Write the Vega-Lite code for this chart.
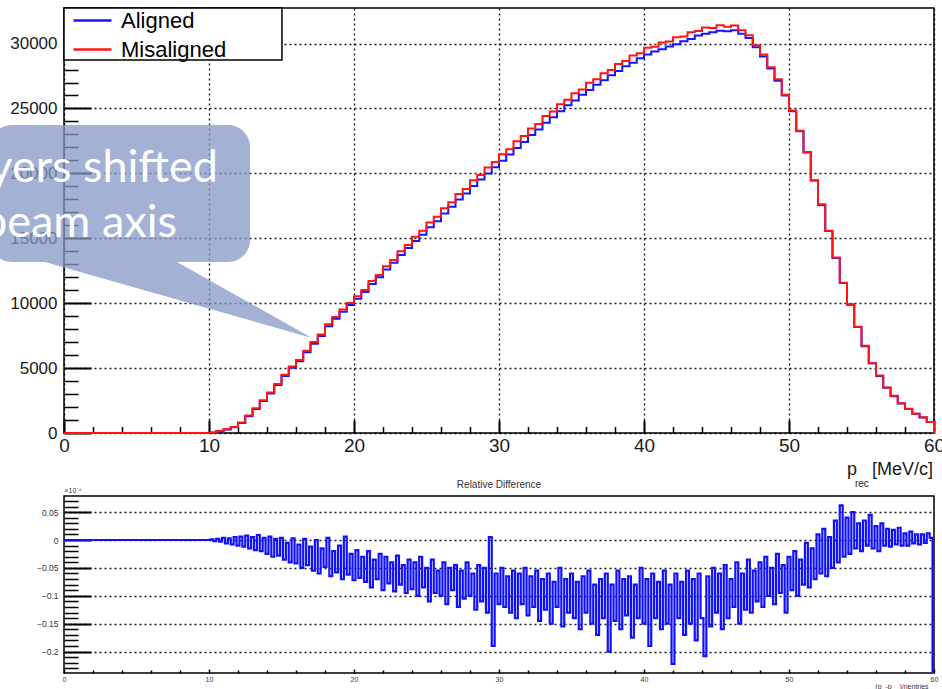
{
  "$schema": "https://vega.github.io/schema/vega-lite/v6.json",
  "autosize": {"type": "none"},
  "padding": {"left": 64, "top": 8, "right": 878, "bottom": 681},
  "background": "white",
  "config": {
    "font": "Liberation Sans",
    "view": {"stroke": "#000", "strokeWidth": 1.5},
    "axis": {
      "domain": false,
      "labelColor": "#1a1a1a",
      "tickColor": "#000",
      "gridColor": "#000",
      "gridDash": [2, 3],
      "gridWidth": 1.4,
      "labelOverlap": false,
      "labelFlush": false,
      "labelBound": false,
      "titleFontWeight": "normal"
    }
  },
  "datasets": {
    "spectrum": [
      {"p": 0, "Aligned": 0, "Misaligned": 0},
      {"p": 10, "Aligned": 35, "Misaligned": 40},
      {"p": 10.5, "Aligned": 140, "Misaligned": 150},
      {"p": 11, "Aligned": 265, "Misaligned": 280},
      {"p": 11.5, "Aligned": 450, "Misaligned": 470},
      {"p": 12, "Aligned": 770, "Misaligned": 800},
      {"p": 12.5, "Aligned": 1300, "Misaligned": 1340},
      {"p": 13, "Aligned": 1850, "Misaligned": 1900},
      {"p": 13.5, "Aligned": 2460, "Misaligned": 2520},
      {"p": 14, "Aligned": 3050, "Misaligned": 3120},
      {"p": 14.5, "Aligned": 3700, "Misaligned": 3780},
      {"p": 15, "Aligned": 4400, "Misaligned": 4480},
      {"p": 15.5, "Aligned": 5030, "Misaligned": 5120},
      {"p": 16, "Aligned": 5520, "Misaligned": 5630},
      {"p": 16.5, "Aligned": 6230, "Misaligned": 6340},
      {"p": 17, "Aligned": 6880, "Misaligned": 7010},
      {"p": 17.5, "Aligned": 7470, "Misaligned": 7580},
      {"p": 18, "Aligned": 8230, "Misaligned": 8380},
      {"p": 18.5, "Aligned": 8800, "Misaligned": 8930},
      {"p": 19, "Aligned": 9350, "Misaligned": 9520},
      {"p": 19.5, "Aligned": 9860, "Misaligned": 10010},
      {"p": 20, "Aligned": 10350, "Misaligned": 10540},
      {"p": 20.5, "Aligned": 10870, "Misaligned": 11020},
      {"p": 21, "Aligned": 11480, "Misaligned": 11700},
      {"p": 21.5, "Aligned": 12000, "Misaligned": 12180},
      {"p": 22, "Aligned": 12600, "Misaligned": 12850},
      {"p": 22.5, "Aligned": 13120, "Misaligned": 13330},
      {"p": 23, "Aligned": 13720, "Misaligned": 14000},
      {"p": 23.5, "Aligned": 14250, "Misaligned": 14480},
      {"p": 24, "Aligned": 14800, "Misaligned": 15120},
      {"p": 24.5, "Aligned": 15280, "Misaligned": 15580},
      {"p": 25, "Aligned": 15850, "Misaligned": 16220},
      {"p": 25.5, "Aligned": 16320, "Misaligned": 16650},
      {"p": 26, "Aligned": 16900, "Misaligned": 17320},
      {"p": 26.5, "Aligned": 17420, "Misaligned": 17780},
      {"p": 27, "Aligned": 17980, "Misaligned": 18420},
      {"p": 27.5, "Aligned": 18450, "Misaligned": 18800},
      {"p": 28, "Aligned": 19020, "Misaligned": 19470},
      {"p": 28.5, "Aligned": 19520, "Misaligned": 19880},
      {"p": 29, "Aligned": 19990, "Misaligned": 20450},
      {"p": 29.5, "Aligned": 20480, "Misaligned": 20870},
      {"p": 30, "Aligned": 20980, "Misaligned": 21480},
      {"p": 30.5, "Aligned": 21450, "Misaligned": 21850},
      {"p": 31, "Aligned": 21950, "Misaligned": 22470},
      {"p": 31.5, "Aligned": 22420, "Misaligned": 22880},
      {"p": 32, "Aligned": 22950, "Misaligned": 23460},
      {"p": 32.5, "Aligned": 23380, "Misaligned": 23800},
      {"p": 33, "Aligned": 23900, "Misaligned": 24420},
      {"p": 33.5, "Aligned": 24330, "Misaligned": 24760},
      {"p": 34, "Aligned": 24780, "Misaligned": 25320},
      {"p": 34.5, "Aligned": 25250, "Misaligned": 25680},
      {"p": 35, "Aligned": 25620, "Misaligned": 26170},
      {"p": 35.5, "Aligned": 26050, "Misaligned": 26460},
      {"p": 36, "Aligned": 26420, "Misaligned": 26980},
      {"p": 36.5, "Aligned": 26830, "Misaligned": 27260},
      {"p": 37, "Aligned": 27180, "Misaligned": 27720},
      {"p": 37.5, "Aligned": 27550, "Misaligned": 27960},
      {"p": 38, "Aligned": 27880, "Misaligned": 28420},
      {"p": 38.5, "Aligned": 28250, "Misaligned": 28660},
      {"p": 39, "Aligned": 28530, "Misaligned": 29080},
      {"p": 39.5, "Aligned": 28870, "Misaligned": 29250},
      {"p": 40, "Aligned": 29150, "Misaligned": 29680},
      {"p": 40.5, "Aligned": 29390, "Misaligned": 29760},
      {"p": 41, "Aligned": 29560, "Misaligned": 30080},
      {"p": 41.5, "Aligned": 29770, "Misaligned": 30150},
      {"p": 42, "Aligned": 29950, "Misaligned": 30480},
      {"p": 42.5, "Aligned": 30180, "Misaligned": 30550},
      {"p": 43, "Aligned": 30350, "Misaligned": 30880},
      {"p": 43.5, "Aligned": 30620, "Misaligned": 30960},
      {"p": 44, "Aligned": 30750, "Misaligned": 31230},
      {"p": 44.5, "Aligned": 30880, "Misaligned": 31200},
      {"p": 45, "Aligned": 30980, "Misaligned": 31420},
      {"p": 45.5, "Aligned": 30950, "Misaligned": 31300},
      {"p": 46, "Aligned": 31020, "Misaligned": 31390},
      {"p": 46.5, "Aligned": 30760, "Misaligned": 31020},
      {"p": 47, "Aligned": 30420, "Misaligned": 30650},
      {"p": 47.5, "Aligned": 29720, "Misaligned": 29880},
      {"p": 48, "Aligned": 29000, "Misaligned": 29150},
      {"p": 48.5, "Aligned": 28080, "Misaligned": 28180},
      {"p": 49, "Aligned": 27130, "Misaligned": 27250},
      {"p": 49.5, "Aligned": 26000, "Misaligned": 26060},
      {"p": 50, "Aligned": 24780, "Misaligned": 24850},
      {"p": 50.5, "Aligned": 23240, "Misaligned": 23280},
      {"p": 51, "Aligned": 21600, "Misaligned": 21640},
      {"p": 51.5, "Aligned": 19450, "Misaligned": 19480},
      {"p": 52, "Aligned": 17560, "Misaligned": 17620},
      {"p": 52.5, "Aligned": 15560, "Misaligned": 15580},
      {"p": 53, "Aligned": 13480, "Misaligned": 13520},
      {"p": 53.5, "Aligned": 11560, "Misaligned": 11580},
      {"p": 54, "Aligned": 9880, "Misaligned": 9920},
      {"p": 54.5, "Aligned": 8170, "Misaligned": 8180},
      {"p": 55, "Aligned": 6690, "Misaligned": 6720},
      {"p": 55.5, "Aligned": 5370, "Misaligned": 5380},
      {"p": 56, "Aligned": 4390, "Misaligned": 4420},
      {"p": 56.5, "Aligned": 3490, "Misaligned": 3500},
      {"p": 57, "Aligned": 2840, "Misaligned": 2860},
      {"p": 57.5, "Aligned": 2280, "Misaligned": 2290},
      {"p": 58, "Aligned": 1840, "Misaligned": 1860},
      {"p": 58.5, "Aligned": 1480, "Misaligned": 1490},
      {"p": 59, "Aligned": 1200, "Misaligned": 1210},
      {"p": 59.5, "Aligned": 845, "Misaligned": 850},
      {"p": 60, "Aligned": 0, "Misaligned": 0}
    ],
    "pointer": [
      {"p": -1.31, "upper": 13174, "lower": 13174},
      {"p": 7.79, "upper": 13174, "lower": 10277},
      {"p": 17.1, "upper": 7319, "lower": 7319}
    ],
    "reldiff": [
      {"p": 0, "rd": 0},
      {"p": 10, "rd": 0}, {"p": 10.2, "rd": 0.001}, {"p": 10.4, "rd": -0.002}, {"p": 10.6, "rd": 0.002}, {"p": 10.8, "rd": -0.003},
      {"p": 11, "rd": 0.004}, {"p": 11.2, "rd": -0.006}, {"p": 11.4, "rd": 0.003}, {"p": 11.6, "rd": -0.008}, {"p": 11.8, "rd": 0.005},
      {"p": 12, "rd": -0.01}, {"p": 12.2, "rd": 0.006}, {"p": 12.4, "rd": -0.012}, {"p": 12.6, "rd": 0.008}, {"p": 12.8, "rd": -0.015},
      {"p": 13, "rd": 0.005}, {"p": 13.2, "rd": -0.018}, {"p": 13.4, "rd": 0.009}, {"p": 13.6, "rd": -0.02}, {"p": 13.8, "rd": 0.004},
      {"p": 14, "rd": -0.025}, {"p": 14.2, "rd": 0.006}, {"p": 14.4, "rd": -0.03}, {"p": 14.6, "rd": 0.002}, {"p": 14.8, "rd": -0.028},
      {"p": 15, "rd": 0.004}, {"p": 15.2, "rd": -0.035}, {"p": 15.4, "rd": -0.005}, {"p": 15.6, "rd": -0.04}, {"p": 15.8, "rd": 0.003},
      {"p": 16, "rd": -0.042}, {"p": 16.2, "rd": -0.008}, {"p": 16.4, "rd": -0.05}, {"p": 16.6, "rd": 0.002}, {"p": 16.8, "rd": -0.045},
      {"p": 17, "rd": -0.012}, {"p": 17.2, "rd": -0.055}, {"p": 17.4, "rd": 0}, {"p": 17.6, "rd": -0.06}, {"p": 17.8, "rd": -0.015},
      {"p": 18, "rd": -0.048}, {"p": 18.2, "rd": 0.004}, {"p": 18.4, "rd": -0.065}, {"p": 18.6, "rd": -0.02}, {"p": 18.8, "rd": -0.058},
      {"p": 19, "rd": -0.01}, {"p": 19.2, "rd": -0.07}, {"p": 19.4, "rd": 0.006}, {"p": 19.6, "rd": -0.062}, {"p": 19.8, "rd": -0.025},
      {"p": 20, "rd": -0.072}, {"p": 20.2, "rd": -0.018}, {"p": 20.4, "rd": -0.068}, {"p": 20.6, "rd": -0.03}, {"p": 20.8, "rd": -0.075},
      {"p": 21, "rd": -0.02}, {"p": 21.2, "rd": -0.085}, {"p": 21.4, "rd": -0.035}, {"p": 21.6, "rd": -0.07}, {"p": 21.8, "rd": -0.025},
      {"p": 22, "rd": -0.09}, {"p": 22.2, "rd": -0.03}, {"p": 22.4, "rd": -0.078}, {"p": 22.6, "rd": -0.04}, {"p": 22.8, "rd": -0.092},
      {"p": 23, "rd": -0.028}, {"p": 23.2, "rd": -0.08}, {"p": 23.4, "rd": -0.045}, {"p": 23.6, "rd": -0.095}, {"p": 23.8, "rd": -0.035},
      {"p": 24, "rd": -0.088}, {"p": 24.2, "rd": -0.04}, {"p": 24.4, "rd": -0.1}, {"p": 24.6, "rd": -0.03}, {"p": 24.8, "rd": -0.085},
      {"p": 25, "rd": -0.05}, {"p": 25.2, "rd": -0.11}, {"p": 25.4, "rd": -0.035}, {"p": 25.6, "rd": -0.095}, {"p": 25.8, "rd": -0.055},
      {"p": 26, "rd": -0.1}, {"p": 26.2, "rd": -0.04}, {"p": 26.4, "rd": -0.115}, {"p": 26.6, "rd": -0.05}, {"p": 26.8, "rd": -0.09},
      {"p": 27, "rd": -0.045}, {"p": 27.2, "rd": -0.12}, {"p": 27.4, "rd": -0.055}, {"p": 27.6, "rd": -0.105}, {"p": 27.8, "rd": -0.04},
      {"p": 28, "rd": -0.1}, {"p": 28.2, "rd": -0.06}, {"p": 28.4, "rd": -0.125}, {"p": 28.6, "rd": -0.045}, {"p": 28.8, "rd": -0.11},
      {"p": 29, "rd": -0.05}, {"p": 29.2, "rd": -0.13}, {"p": 29.4, "rd": 0.005}, {"p": 29.6, "rd": -0.19}, {"p": 29.8, "rd": -0.06},
      {"p": 30, "rd": -0.115}, {"p": 30.2, "rd": -0.05}, {"p": 30.4, "rd": -0.12}, {"p": 30.6, "rd": -0.065}, {"p": 30.8, "rd": -0.13},
      {"p": 31, "rd": -0.055}, {"p": 31.2, "rd": -0.14}, {"p": 31.4, "rd": -0.06}, {"p": 31.6, "rd": -0.115}, {"p": 31.8, "rd": -0.05},
      {"p": 32, "rd": -0.135}, {"p": 32.2, "rd": -0.065}, {"p": 32.4, "rd": -0.12}, {"p": 32.6, "rd": -0.055}, {"p": 32.8, "rd": -0.145},
      {"p": 33, "rd": -0.07}, {"p": 33.2, "rd": -0.125}, {"p": 33.4, "rd": -0.06}, {"p": 33.6, "rd": -0.15}, {"p": 33.8, "rd": -0.075},
      {"p": 34, "rd": -0.12}, {"p": 34.2, "rd": -0.05}, {"p": 34.4, "rd": -0.155}, {"p": 34.6, "rd": -0.07}, {"p": 34.8, "rd": -0.13},
      {"p": 35, "rd": -0.06}, {"p": 35.2, "rd": -0.14}, {"p": 35.4, "rd": -0.075}, {"p": 35.6, "rd": -0.16}, {"p": 35.8, "rd": -0.065},
      {"p": 36, "rd": -0.13}, {"p": 36.2, "rd": -0.055}, {"p": 36.4, "rd": -0.15}, {"p": 36.6, "rd": -0.08}, {"p": 36.8, "rd": -0.17},
      {"p": 37, "rd": -0.07}, {"p": 37.2, "rd": -0.14}, {"p": 37.4, "rd": -0.06}, {"p": 37.6, "rd": -0.2}, {"p": 37.8, "rd": -0.08},
      {"p": 38, "rd": -0.145}, {"p": 38.2, "rd": -0.055}, {"p": 38.4, "rd": -0.16}, {"p": 38.6, "rd": -0.07}, {"p": 38.8, "rd": -0.135},
      {"p": 39, "rd": -0.065}, {"p": 39.2, "rd": -0.175}, {"p": 39.4, "rd": -0.08}, {"p": 39.6, "rd": -0.14}, {"p": 39.8, "rd": -0.05},
      {"p": 40, "rd": -0.15}, {"p": 40.2, "rd": -0.07}, {"p": 40.4, "rd": -0.19}, {"p": 40.6, "rd": -0.06}, {"p": 40.8, "rd": -0.14},
      {"p": 41, "rd": -0.075}, {"p": 41.2, "rd": -0.16}, {"p": 41.4, "rd": -0.055}, {"p": 41.6, "rd": -0.15}, {"p": 41.8, "rd": -0.08},
      {"p": 42, "rd": -0.222}, {"p": 42.2, "rd": -0.06}, {"p": 42.4, "rd": -0.14}, {"p": 42.6, "rd": -0.075}, {"p": 42.8, "rd": -0.17},
      {"p": 43, "rd": -0.055}, {"p": 43.2, "rd": -0.15}, {"p": 43.4, "rd": -0.07}, {"p": 43.6, "rd": -0.18}, {"p": 43.8, "rd": -0.06},
      {"p": 44, "rd": -0.14}, {"p": 44.2, "rd": -0.208}, {"p": 44.4, "rd": -0.065}, {"p": 44.6, "rd": -0.155}, {"p": 44.8, "rd": -0.05},
      {"p": 45, "rd": -0.13}, {"p": 45.2, "rd": -0.06}, {"p": 45.4, "rd": -0.16}, {"p": 45.6, "rd": -0.045}, {"p": 45.8, "rd": -0.14},
      {"p": 46, "rd": -0.07}, {"p": 46.2, "rd": -0.12}, {"p": 46.4, "rd": -0.04}, {"p": 46.6, "rd": -0.15}, {"p": 46.8, "rd": -0.06},
      {"p": 47, "rd": -0.125}, {"p": 47.2, "rd": -0.035}, {"p": 47.4, "rd": -0.13}, {"p": 47.6, "rd": -0.055}, {"p": 47.8, "rd": -0.11},
      {"p": 48, "rd": -0.04}, {"p": 48.2, "rd": -0.12}, {"p": 48.4, "rd": -0.03}, {"p": 48.6, "rd": -0.1}, {"p": 48.8, "rd": -0.05},
      {"p": 49, "rd": -0.115}, {"p": 49.2, "rd": -0.025}, {"p": 49.4, "rd": -0.095}, {"p": 49.6, "rd": -0.045}, {"p": 49.8, "rd": -0.13},
      {"p": 50, "rd": -0.03}, {"p": 50.2, "rd": -0.09}, {"p": 50.4, "rd": -0.02}, {"p": 50.6, "rd": -0.1}, {"p": 50.8, "rd": -0.035},
      {"p": 51, "rd": -0.08}, {"p": 51.2, "rd": -0.005}, {"p": 51.4, "rd": -0.085}, {"p": 51.6, "rd": -0.015}, {"p": 51.8, "rd": -0.07},
      {"p": 52, "rd": 0.01}, {"p": 52.2, "rd": -0.06}, {"p": 52.4, "rd": 0.02}, {"p": 52.6, "rd": -0.065}, {"p": 52.8, "rd": 0.005},
      {"p": 53, "rd": -0.05}, {"p": 53.2, "rd": 0.035}, {"p": 53.4, "rd": -0.04}, {"p": 53.6, "rd": 0.062}, {"p": 53.8, "rd": -0.03},
      {"p": 54, "rd": 0.04}, {"p": 54.2, "rd": -0.025}, {"p": 54.4, "rd": 0.05}, {"p": 54.6, "rd": -0.015}, {"p": 54.8, "rd": 0.03},
      {"p": 55, "rd": -0.02}, {"p": 55.2, "rd": 0.035}, {"p": 55.4, "rd": -0.01}, {"p": 55.6, "rd": 0.045}, {"p": 55.8, "rd": -0.015},
      {"p": 56, "rd": 0.025}, {"p": 56.2, "rd": -0.02}, {"p": 56.4, "rd": 0.03}, {"p": 56.6, "rd": -0.01}, {"p": 56.8, "rd": 0.02},
      {"p": 57, "rd": -0.012}, {"p": 57.2, "rd": 0.018}, {"p": 57.4, "rd": -0.008}, {"p": 57.6, "rd": 0.022}, {"p": 57.8, "rd": -0.01},
      {"p": 58, "rd": 0.012}, {"p": 58.2, "rd": -0.01}, {"p": 58.4, "rd": 0.015}, {"p": 58.6, "rd": -0.006}, {"p": 58.8, "rd": 0.01},
      {"p": 59, "rd": -0.008}, {"p": 59.2, "rd": 0.01}, {"p": 59.4, "rd": -0.005}, {"p": 59.6, "rd": 0.012}, {"p": 59.8, "rd": 0.004},
      {"p": 60, "rd": -0.26}
    ]
  },
  "bounds": "flush",
  "spacing": 63,
  "vconcat": [
    {
      "width": 870,
      "height": 425,
      "layer": [
        {
          "data": {"name": "spectrum"},
          "mark": {"type": "line", "interpolate": "step-after", "strokeWidth": 2},
          "encoding": {
            "x": {
              "field": "p", "type": "quantitative",
              "scale": {"domain": [0, 60], "nice": false, "zero": false},
              "axis": {
                "title": null,
                "values": [0, 2, 4, 6, 8, 10, 12, 14, 16, 18, 20, 22, 24, 26, 28, 30, 32, 34, 36, 38, 40, 42, 44, 46, 48, 50, 52, 54, 56, 58, 60],
                "tickCount": 200,
                "format": "d",
                "labelExpr": "datum.value % 10 === 0 ? datum.label : ''",
                "labelFontSize": 19,
                "labelPadding": 16,
                "tickSize": {"condition": {"test": "datum.value % 10 === 0", "value": -13}, "value": -6.5},
                "tickWidth": {"condition": {"test": "datum.value % 10 === 0", "value": 2}, "value": 1.5},
                "grid": true,
                "gridOpacity": {"condition": {"test": "datum.value % 10 === 0", "value": 0.9}, "value": 0}
              }
            },
            "y": {
              "field": "Aligned", "type": "quantitative",
              "scale": {"domain": [0, 32740], "nice": false, "zero": false},
              "axis": {
                "title": null,
                "values": [0, 1000, 2000, 3000, 4000, 5000, 6000, 7000, 8000, 9000, 10000, 11000, 12000, 13000, 14000, 15000, 16000, 17000, 18000, 19000, 20000, 21000, 22000, 23000, 24000, 25000, 26000, 27000, 28000, 29000, 30000, 31000, 32000],
                "tickCount": 200,
                "format": "d",
                "labelExpr": "datum.value % 5000 === 0 ? datum.label : ''",
                "labelFontSize": 17,
                "labelPadding": 34,
                "tickSize": {"condition": {"test": "datum.value % 5000 === 0", "value": -27}, "value": -14},
                "tickWidth": {"condition": {"test": "datum.value % 5000 === 0", "value": 2}, "value": 1.5},
                "grid": true,
                "gridOpacity": {"condition": {"test": "datum.value % 5000 === 0", "value": 0.9}, "value": 0}
              }
            },
            "color": {
              "datum": "Aligned", "type": "nominal",
              "scale": {"domain": ["Aligned", "Misaligned"], "range": ["#1414ff", "#ff1414"]},
              "legend": {
                "title": null,
                "orient": "none",
                "legendX": 4,
                "legendY": -3,
                "padding": 4,
                "labelFontSize": 22,
                "labelFont": "Liberation Sans",
                "labelColor": "#000",
                "symbolType": "M-1,0H2.8",
                "symbolSize": 400,
                "symbolStrokeWidth": 2.5,
                "labelOffset": 26,
                "rowPadding": 6
              }
            }
          }
        },
        {
          "data": {"name": "spectrum"},
          "mark": {"type": "line", "interpolate": "step-after", "strokeWidth": 2},
          "encoding": {
            "x": {"field": "p", "type": "quantitative"},
            "y": {"field": "Misaligned", "type": "quantitative"},
            "color": {"datum": "Misaligned", "type": "nominal"}
          }
        },
        {
          "data": {"values": [{}]},
          "mark": {"type": "rect", "fill": "white", "stroke": "black", "strokeWidth": 1.5},
          "encoding": {
            "x": {"datum": 0}, "x2": {"datum": 15.03},
            "y": {"datum": 32740}, "y2": {"datum": 28736}
          }
        },
        {
          "data": {"values": [{}]},
          "mark": {"type": "rect", "fill": "#8497c6", "opacity": 0.75, "cornerRadius": 22},
          "encoding": {
            "x": {"datum": -5.1}, "x2": {"datum": 12.83},
            "y": {"datum": 23728}, "y2": {"datum": 13174}
          }
        },
        {
          "data": {"name": "pointer"},
          "mark": {"type": "area", "fill": "#8497c6", "opacity": 0.75},
          "encoding": {
            "x": {"field": "p", "type": "quantitative"},
            "y": {"field": "upper", "type": "quantitative"},
            "y2": {"field": "lower"}
          }
        },
        {
          "data": {"values": [{}]},
          "mark": {"type": "text", "text": "yers shifted", "font": "Lato", "fontSize": 45, "color": "white", "align": "right", "baseline": "alphabetic"},
          "encoding": {"x": {"datum": 10.62}, "y": {"datum": 19337}}
        },
        {
          "data": {"values": [{}]},
          "mark": {"type": "text", "text": "beam axis", "font": "Lato", "fontSize": 45, "color": "white", "align": "right", "baseline": "alphabetic"},
          "encoding": {"x": {"datum": 7.79}, "y": {"datum": 15100}}
        },
        {
          "data": {"values": [{}]},
          "mark": {"type": "text", "text": "p", "fontSize": 18, "color": "#1a1a1a", "align": "left", "baseline": "alphabetic"},
          "encoding": {"x": {"datum": 54.0}, "y": {"datum": -3236}}
        },
        {
          "data": {"values": [{}]},
          "mark": {"type": "text", "text": "rec", "fontSize": 10, "color": "#1a1a1a", "align": "left", "baseline": "alphabetic"},
          "encoding": {"x": {"datum": 54.55}, "y": {"datum": -4160}}
        },
        {
          "data": {"values": [{}]},
          "mark": {"type": "text", "text": "[MeV/c]", "fontSize": 18, "color": "#1a1a1a", "align": "right", "baseline": "alphabetic"},
          "encoding": {"x": {"datum": 59.93}, "y": {"datum": -3236}}
        }
      ]
    },
    {
      "width": 870,
      "height": 177,
      "title": {"text": "Relative Difference", "fontSize": 10, "fontWeight": "normal", "color": "#333", "offset": -4, "font": "Liberation Sans"},
      "data": {"name": "reldiff"},
      "mark": {"type": "line", "interpolate": "step", "color": "#1010ff", "strokeWidth": 2.2, "clip": true},
      "encoding": {
        "x": {
          "field": "p", "type": "quantitative",
          "scale": {"domain": [0, 60], "nice": false, "zero": false},
          "axis": {
            "title": "(p_-p__)/nentries_",
            "titleFontSize": 7,
            "titleColor": "#333",
            "titleX": 868,
            "titleY": 13,
            "titleAlign": "right",
            "titleBaseline": "middle",
            "values": [0, 2, 4, 6, 8, 10, 12, 14, 16, 18, 20, 22, 24, 26, 28, 30, 32, 34, 36, 38, 40, 42, 44, 46, 48, 50, 52, 54, 56, 58, 60],
            "tickCount": 200,
            "format": "d",
            "labelExpr": "datum.value % 10 === 0 ? datum.label : ''",
            "labelFontSize": 7,
            "labelColor": "#333",
            "labelPadding": 6,
            "tickSize": {"condition": {"test": "datum.value % 10 === 0", "value": -4}, "value": -3},
            "tickWidth": 1.5,
            "grid": false
          }
        },
        "y": {
          "field": "rd", "type": "quantitative",
          "scale": {"domain": [-0.2384, 0.0789], "nice": false, "zero": false},
          "axis": {
            "title": "×10⁻⁴",
            "titleAngle": 0,
            "titleX": 0,
            "titleY": -3,
            "titleAlign": "left",
            "titleBaseline": "bottom",
            "titleFontSize": 7,
            "titleColor": "#333",
            "values": [-0.23, -0.22, -0.21, -0.2, -0.19, -0.18, -0.17, -0.16, -0.15, -0.14, -0.13, -0.12, -0.11, -0.1, -0.09, -0.08, -0.07, -0.06, -0.05, -0.04, -0.03, -0.02, -0.01, 0, 0.01, 0.02, 0.03, 0.04, 0.05, 0.06, 0.07],
            "tickCount": 200,
            "format": "~g",
            "labelExpr": "abs(round(datum.value * 100)) % 5 === 0 ? datum.label : ''",
            "labelFontSize": 8.5,
            "labelColor": "#333",
            "labelPadding": 33,
            "tickSize": {"condition": {"test": "abs(round(datum.value * 100)) % 5 === 0", "value": -27}, "value": -14},
            "tickWidth": {"condition": {"test": "abs(round(datum.value * 100)) % 5 === 0", "value": 2}, "value": 1.5},
            "grid": true,
            "gridOpacity": {"condition": {"test": "abs(round(datum.value * 100)) % 5 === 0", "value": 0.9}, "value": 0}
          }
        }
      }
    }
  ]
}
